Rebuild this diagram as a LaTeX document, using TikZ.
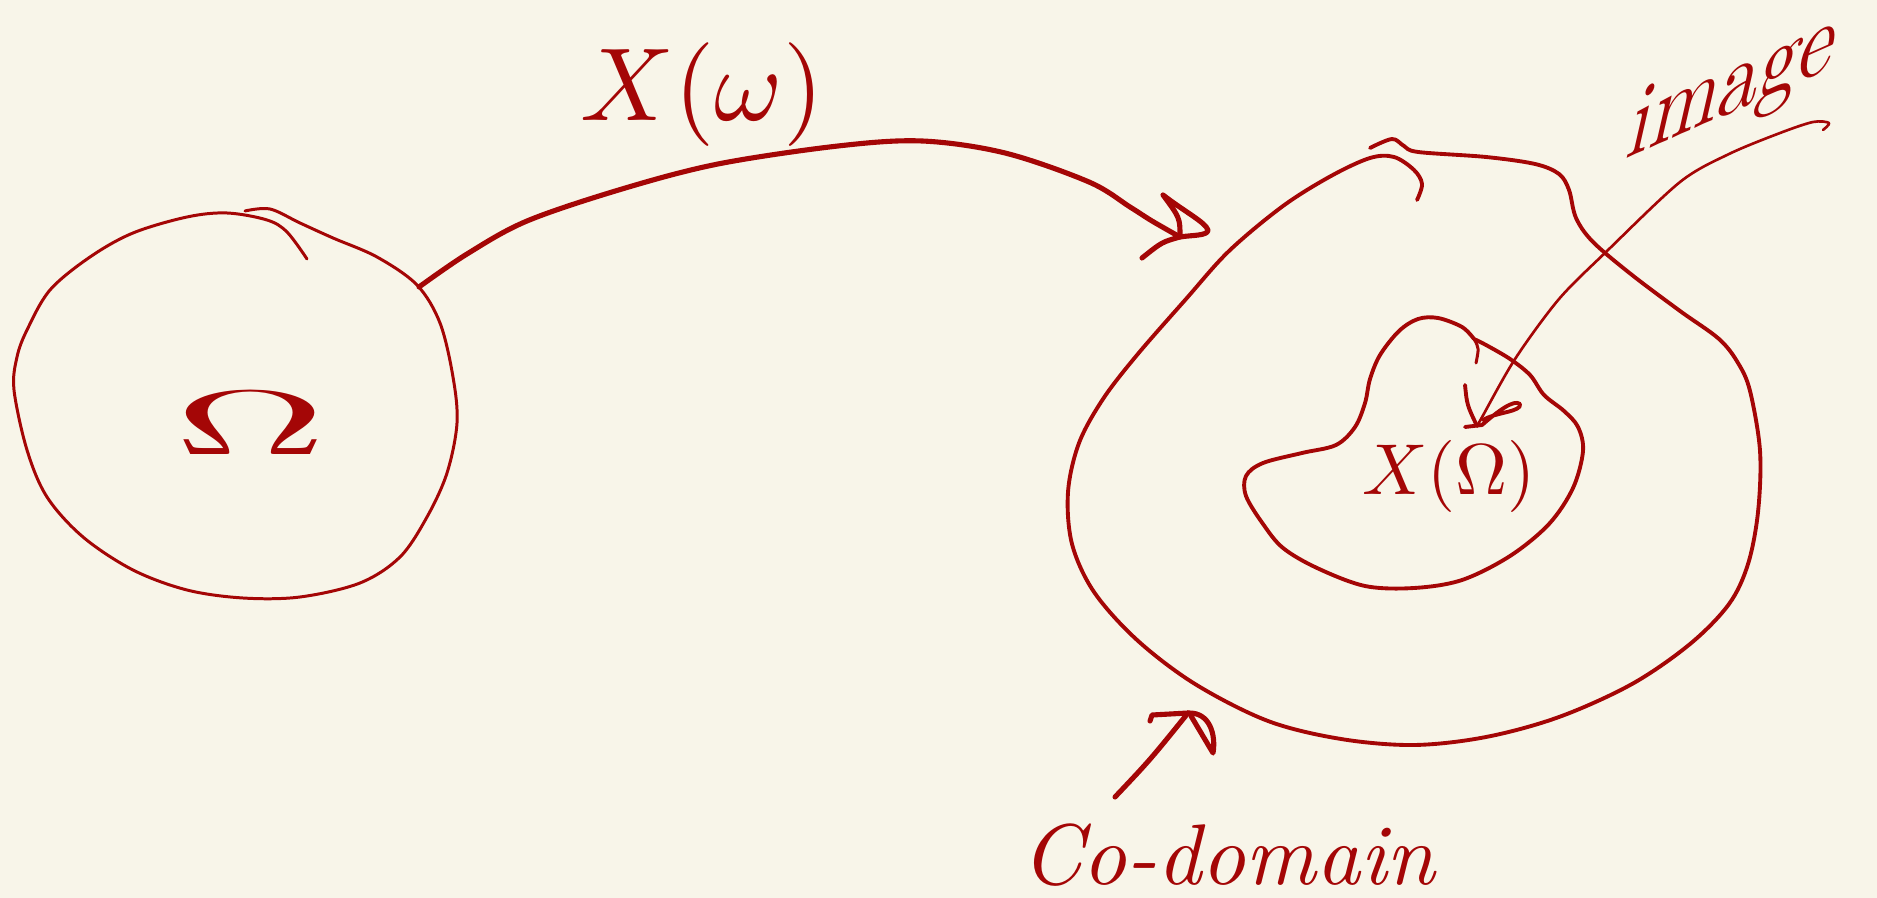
\documentclass[tikz,border=0pt]{standalone}
\usetikzlibrary{calc}
\definecolor{ink}{RGB}{164,6,6}
\definecolor{paper}{RGB}{248,245,233}
\tikzset{
  pen/.style={draw=ink, line cap=round, line join=round},
  finepen/.style={pen, line width=0.85pt},
  midpen/.style={pen, line width=1.1pt},
  boldpen/.style={pen, line width=1.45pt},
  hairpen/.style={pen, line width=0.75pt},
  script/.style={text=ink, inner sep=0pt},
}
\begin{document}
\begin{tikzpicture}[x=0.01cm, y=-0.01cm]
  % paper
  \fill[paper] (0,0) rectangle (1877,898);
  \useasboundingbox (0,0) rectangle (1877,898);

  % sample space
  \draw[finepen] plot[smooth, tension=0.55] coordinates {
    (245,211) (270,209) (300,223) (333,238) (377,257) (417,285) (440,323)
    (453,377) (457,423) (447,473) (427,517) (400,557) (360,583) (300,597)
    (243,598) (187,590) (133,570) (83,537) (47,497) (27,450) (14,390)
    (17,357) (27,330) (50,290) (90,257) (133,233) (187,217) (227,213)
    (267,220) (287,232) (307,259)};
  \node[script, xscale=6, yscale=2.6] (omega) at (251,423) {$\Omega$};

  % codomain
  \draw[midpen] plot[smooth, tension=0.55] coordinates {
    (1370,148) (1392,139) (1404,146) (1418,152) (1486,157) (1535,164)
    (1559,174) (1569,190) (1576,218) (1593,242) (1632,275) (1680,311)
    (1719,339) (1738,363) (1750,391) (1760,451) (1758,512) (1748,564)
    (1729,604) (1690,644) (1632,684) (1559,717) (1486,737) (1414,745)
    (1341,739) (1268,721) (1195,684) (1137,640) (1094,592) (1072,544)
    (1068,492) (1079,443) (1103,399) (1137,355) (1186,299) (1229,251)
    (1283,206) (1331,176) (1370,158) (1394,157) (1414,170) (1422,184)
    (1417,200)};

  % image of the map
  \coordinate (cusp) at (1474,339);
  \draw[midpen] plot[smooth, tension=0.55] coordinates {
    (cusp) (1462,327) (1438,318) (1418,319) (1399,331) (1380,355)
    (1370,379) (1365,403) (1355,427) (1336,445) (1302,453) (1263,463)
    (1246,476) (1246,496) (1263,524) (1283,548) (1317,568) (1365,586)
    (1414,588) (1462,580) (1510,556) (1549,524) (1573,488) (1583,451)
    (1578,427) (1564,411) (1544,395) (1530,375) (1510,359) (1486,345)
    (cusp)};
  \draw[finepen] (cusp) .. controls (1479,348) .. (1476,363);
  \node[script, scale=2.05] (ximage) at (1449,476) {$X(\Omega)$};

  % the map X
  \coordinate (omegaRim) at (419,287);
  \coordinate (codTip) at (1180,237);
  \draw[boldpen] plot[smooth, tension=0.55] coordinates {
    (omegaRim) (467,254) (527,221) (622,189) (718,164) (838,146)
    (922,141) (1005,153) (1089,182) (1130,207) (1152,221) (codTip)};
  \draw[boldpen] (codTip) .. controls (1180,218) .. (1163,195)
    .. controls (1185,212) and (1205,222) .. (1208,230)
    .. controls (1208,236) and (1192,235) .. (codTip)
    .. controls (1162,242) .. (1142,258);
  \node[script, scale=2.95] (xomega) at (702,95) {$X(\omega)$};

  % pointer to the image
  \coordinate (imgTail) at (1823,130);
  \coordinate (imgTip) at (1477,426);
  \draw[hairpen] plot[smooth, tension=0.5] coordinates {
    (imgTail) (1829,123) (1813,122) (1780,133) (1729,154) (1680,182)
    (1607,251) (1559,299) (1515,359) (1481,419) (imgTip)};
  \draw[midpen] (1465,385) .. controls (1467,405) .. (imgTip);
  \draw[midpen] (1465,427) -- (1482,425)
    .. controls (1498,411) and (1514,399) .. (1520,404)
    .. controls (1522,412) and (1496,412) .. (1483,420);
  \node[script, rotate=24, xslant=0.75, scale=2.5] (imageLabel) at (1733,90) {image};

  % pointer to the codomain
  \coordinate (codFoot) at (1115,797);
  \coordinate (codHead) at (1188,713);
  \draw[boldpen] (codFoot) .. controls (1150,760) .. (codHead);
  \draw[boldpen] (1150,721) -- (1152,715) -- (codHead)
    .. controls (1210,712) and (1216,735) .. (1213,753) -- (1191,716);
  \node[script, scale=2.45] (codLabel) at (1228,855) {\itshape Co-domain};
\end{tikzpicture}
\end{document}
